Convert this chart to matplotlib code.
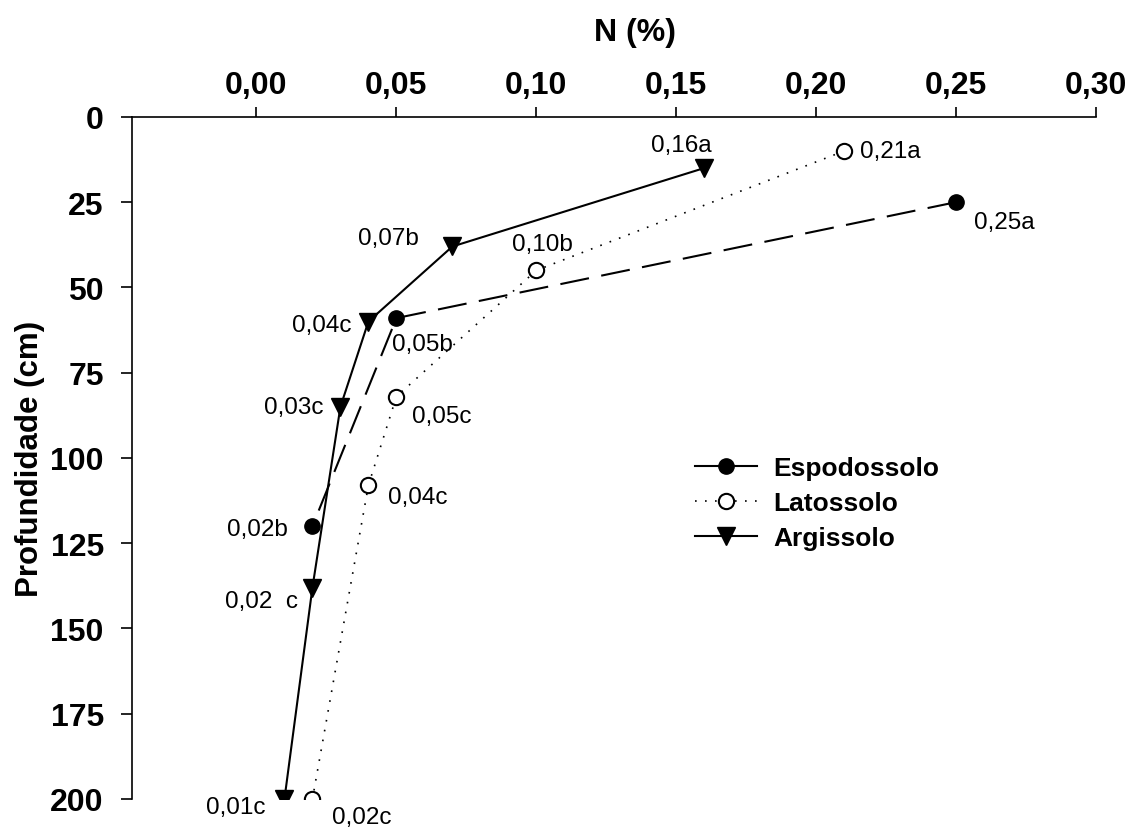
# -*- coding: utf-8 -*-
"""
plot.py - N (%) por profundidade em três solos.
"""
import matplotlib
matplotlib.use('Agg')
import matplotlib.pyplot as plt
from matplotlib.lines import Line2D

plt.rcParams['font.family'] = ['Liberation Sans', 'DejaVu Sans']

# ── Dados ────────────────────────────────────────────────────────────────────
esp_n = [0.25, 0.05, 0.02]
esp_prof = [25, 59, 120]
esp_lab = ['0,25a', '0,05b', '0,02b']

lat_n = [0.21, 0.10, 0.05, 0.04, 0.02]
lat_prof = [10, 45, 82, 108, 200]
lat_lab = ['0,21a', '0,10b', '0,05c', '0,04c', '0,02c']

arg_n = [0.16, 0.07, 0.04, 0.03, 0.02, 0.01]
arg_prof = [15, 38, 60, 85, 138, 200]
arg_lab = ['0,16a', '0,07b', '0,04c', '0,03c', '0,02  c', '0,01c']

x_ticks = [0.00, 0.05, 0.10, 0.15, 0.20, 0.25, 0.30]
x_ticklabels = ['0,00', '0,05', '0,10', '0,15', '0,20', '0,25', '0,30']
y_ticks = [0, 25, 50, 75, 100, 125, 150, 175, 200]

# label offsets (pixels) from each point, text centred
esp_off = [(48, -20), (26, -26), (-55, -3)]
lat_off = [(46, 0), (6, 26), (45, -19), (49, -12), (49, -18)]
arg_off = [(-23, 23), (-64, 8), (-47, -3), (-47, 0), (-51, -13), (-49, -8)]

fig = plt.figure(figsize=(11.3, 8.29), dpi=100)
ax = fig.add_axes([0.1165, 0.035, 0.8535, 0.8228])

ax.plot(esp_n, esp_prof, color='black', linewidth=1.5, dashes=(14, 6),
        marker='o', markersize=11, markerfacecolor='black',
        markeredgecolor='black')
ax.plot(lat_n, lat_prof, color='black', linewidth=1.2, linestyle=(0, (1, 5)),
        marker='o', markersize=11, markerfacecolor='white',
        markeredgecolor='black', markeredgewidth=1.5)
ax.plot(arg_n, arg_prof, color='black', linewidth=1.5,
        marker='v', markersize=13, markerfacecolor='black',
        markeredgecolor='black')

for xs, ys, labs, offs in [(esp_n, esp_prof, esp_lab, esp_off),
                           (lat_n, lat_prof, lat_lab, lat_off),
                           (arg_n, arg_prof, arg_lab, arg_off)]:
    for x, y, t, o in zip(xs, ys, labs, offs):
        ax.annotate(t, xy=(x, y), xytext=o, textcoords='offset pixels',
                    ha='center', va='center', fontsize=17.5)

ax.set_xlim(-0.0446, 0.30)
ax.set_ylim(200, 0)
ax.xaxis.tick_top()
ax.xaxis.set_label_position('top')
ax.set_xticks(x_ticks)
ax.set_xticklabels(x_ticklabels)
ax.set_yticks(y_ticks)

for s in ['right', 'bottom']:
    ax.spines[s].set_visible(False)
for s in ['left', 'top']:
    ax.spines[s].set_linewidth(1.2)

ax.tick_params(axis='x', direction='out', length=7.5, width=1.2, pad=5,
               labelsize=23)
ax.tick_params(axis='y', direction='out', length=8, width=1.2, pad=12,
               labelsize=23)
for lab in ax.get_xticklabels() + ax.get_yticklabels():
    lab.set_fontweight('bold')

ax.set_xlabel('N (%)', fontsize=23, fontweight='bold')
ax.xaxis.set_label_coords(0.522, 1.112)
ax.set_ylabel('Profundidade (cm)', fontsize=22.5, fontweight='bold')
ax.yaxis.set_label_coords(-0.09, 0.5)

# legend keys as in the original (solid line for Espodossolo)
handles = [
    Line2D([], [], color='black', linewidth=1.5, marker='o', markersize=11,
           markerfacecolor='black'),
    Line2D([], [], color='black', linewidth=1.2, linestyle=(0, (1, 5)),
           marker='o', markersize=11, markerfacecolor='white',
           markeredgewidth=1.5),
    Line2D([], [], color='black', linewidth=1.5, marker='v', markersize=13,
           markerfacecolor='black'),
]
ax.legend(handles, ['Espodossolo', 'Latossolo', 'Argissolo'],
          loc='upper left', bbox_to_anchor=(695 / 1130, 1 - 457 / 829),
          bbox_transform=fig.transFigure, frameon=False,
          prop={'size': 19, 'weight': 'bold'}, handlelength=2.35,
          handletextpad=0.6, labelspacing=0.42, borderpad=0,
          borderaxespad=0)

fig.savefig('out.png', dpi=100)
